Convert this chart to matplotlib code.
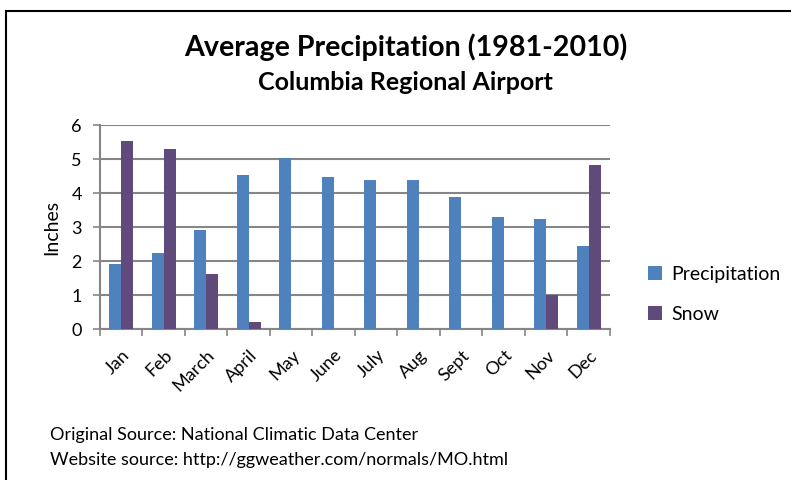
import numpy as np
import matplotlib.pyplot as plt
from matplotlib.patches import Rectangle

months = ['Jan', 'Feb', 'March', 'April', 'May', 'June', 'July', 'Aug',
          'Sept', 'Oct', 'Nov', 'Dec']
precipitation = [1.91, 2.24, 2.91, 4.52, 5.02, 4.46, 4.37, 4.37, 3.89, 3.30, 3.24, 2.44]
snow = [5.54, 5.30, 1.61, 0.20, 0, 0, 0, 0, 0, 0, 1.00, 4.81]

plt.rcParams['font.family'] = ['Lato', 'DejaVu Sans']

W, H = 791, 480
fig = plt.figure(figsize=(W/100, H/100), dpi=100)
ax = fig.add_axes([100/W, (H-329)/H, 510/W, (329-125)/H])

x = np.arange(len(months))
bw = 0.28
ax.bar(x - bw/2, precipitation, bw, color='#4F81BD', label='Precipitation', zorder=3)
ax.bar(x + bw/2, snow, bw, color='#604A7B', label='Snow', zorder=3)

ax.set_xlim(-0.5, len(months) - 0.5)
ax.set_ylim(0, 6)
ax.set_yticks(range(7))
ax.yaxis.grid(True, color='#868686', lw=1.5, zorder=0)
# month boundaries get the tick marks, names sit between them
ax.set_xticks(np.arange(len(months) + 1) - 0.5)
ax.set_xticklabels([])
ax.set_xticks(x, minor=True)
ax.set_xticklabels(months, minor=True, rotation=45, ha='right', rotation_mode='anchor',
                   fontsize=13)
ax.tick_params(axis='x', which='minor', length=0, pad=13)
ax.tick_params(axis='x', which='major', length=5, color='#868686', width=1.2)
ax.tick_params(axis='y', length=5, color='#868686', width=1.2, labelsize=13, pad=8)
for s in ['top', 'right']:
    ax.spines[s].set_visible(False)
for s in ['left', 'bottom']:
    ax.spines[s].set_color('#868686')
    ax.spines[s].set_linewidth(1.5)
ax.set_ylabel('Inches', fontsize=14, labelpad=8)

ax.legend(loc='center left', bbox_to_anchor=(1.04, 0.17), frameon=False, fontsize=14,
          handlelength=0.7, handleheight=0.7, labelspacing=1.2, handletextpad=0.5)

fig.text(406/W, 1 - 47/H, 'Average Precipitation (1981-2010)', ha='center', va='center',
         fontsize=20.6, fontweight='bold')
fig.text(405/W, 1 - 82/H, 'Columbia Regional Airport', ha='center', va='center',
         fontsize=18, fontweight='bold')
fig.text(50/W, 1 - 435/H, 'Original Source: National Climatic Data Center', va='center',
         fontsize=13)
fig.text(50/W, 1 - 460/H, 'Website source: http://ggweather.com/normals/MO.html', va='center',
         fontsize=13)

fig.patches.append(Rectangle((6/W, -0.1), 1.0, 1 - 11/H + 0.1, transform=fig.transFigure,
                             fill=False, lw=1.5, edgecolor='black'))

fig.savefig('out.png', dpi=100)
